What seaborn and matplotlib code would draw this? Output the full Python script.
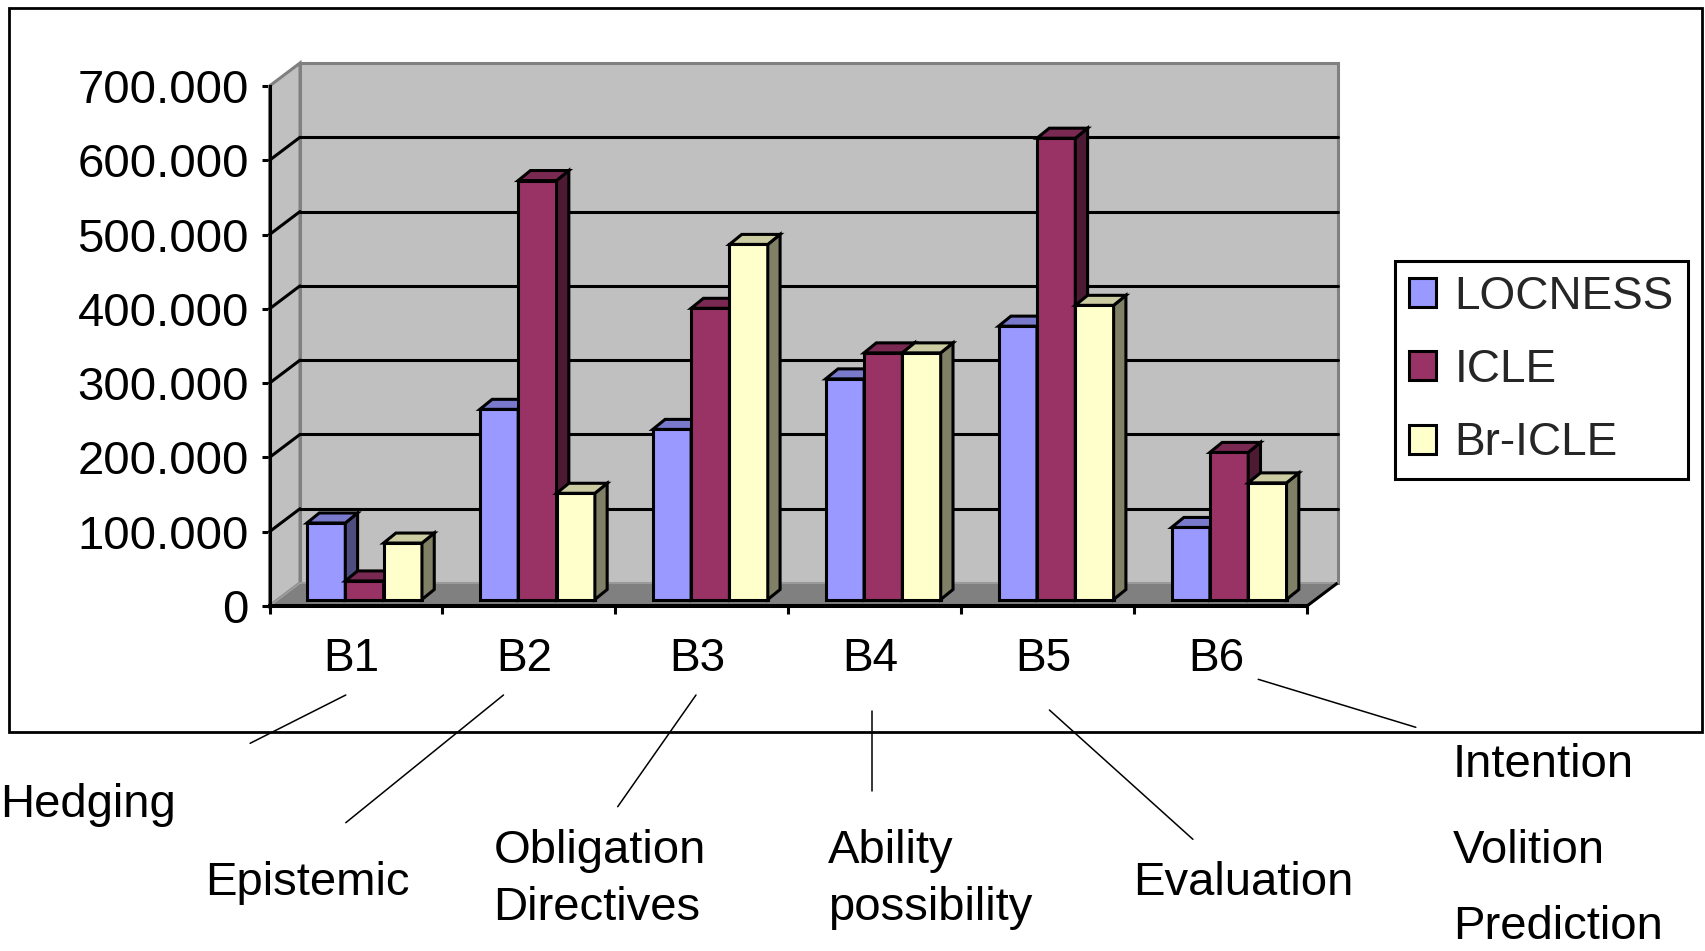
import numpy as np
import pandas as pd
import matplotlib
matplotlib.use("Agg")
import matplotlib.pyplot as plt
from matplotlib.patches import Polygon, Rectangle, Patch
from matplotlib.lines import Line2D
import seaborn as sns

# ---- data -------------------------------------------------------------
categories = ["B1", "B2", "B3", "B4", "B5", "B6"]
series = ["LOCNESS", "ICLE", "Br-ICLE"]
locness = [103, 256, 229, 297, 368, 97]
icle = [25, 564, 392, 332, 621, 198]
br_icle = [76, 143, 478, 332, 396, 157]
y_ticks = [0, 100, 200, 300, 400, 500, 600, 700]
y_tick_labels = ["0", "100.000", "200.000", "300.000", "400.000",
                 "500.000", "600.000", "700.000"]
note_lines = ["Hedging", "Epistemic", "Obligation", "Directives", "Ability",
              "possibility", "Evaluation", "Intention", "Volition", "Prediction"]

colors = ["#9999FF", "#993366", "#FFFFCC"]

# ---- figure geometry (pixels) ----------------------------------------
W, H, DPI = 1705, 951, 100
AX_L, AX_R, AX_T, AX_B = 269.5, 1307, 86, 606
PLANE = (8.5, 6.5)      # bar front faces sit slightly behind the axis plane
BAR_DEPTH = (12.3, 10)  # visible depth of each column
WALL = (30.5, 23)       # depth of the back wall

sns.set_theme(style="white")
plt.rcParams["font.family"] = ["Liberation Sans", "DejaVu Sans"]

fig = plt.figure(figsize=(W / DPI, H / DPI), dpi=DPI)


def fx(px):
    return px / W


def fy(py):
    return 1 - py / H


ax = fig.add_axes([fx(AX_L), fy(AX_B), (AX_R - AX_L) / W, (AX_B - AX_T) / H])
ax.patch.set_visible(False)

df = pd.DataFrame({
    "category": categories * 3,
    "series": np.repeat(series, len(categories)),
    "value": locness + icle + br_icle,
})

sns.barplot(data=df, x="category", y="value", hue="series", order=categories,
            hue_order=series, palette=colors, saturation=1, width=0.665,
            edgecolor="black", linewidth=2.2, errorbar=None, legend=False, ax=ax)
bars = sorted([p for p in ax.patches if isinstance(p, Rectangle)],
              key=lambda p: p.get_x())

ymax = y_ticks[-1]
ax.set_xlim(-0.5, len(categories) - 0.5)
ax.set_ylim(0, ymax)

ux = (AX_R - AX_L) / len(categories)
uy = (AX_B - AX_T) / ymax


def to_data(off):
    return off[0] / ux, off[1] / uy


pdx, pdy = to_data(PLANE)
bdx, bdy = to_data(BAR_DEPTH)
wdx, wdy = to_data(WALL)
x_lo, x_hi = -0.5, len(categories) - 0.5

# ---- walls and floor ---------------------------------------------------
ax.add_patch(Polygon([(x_lo + wdx, wdy), (x_hi + wdx, wdy), (x_hi + wdx, ymax + wdy),
                      (x_lo + wdx, ymax + wdy)], closed=True, fc="#C0C0C0",
                     ec="#808080", lw=2.2, zorder=0.5, clip_on=False))
ax.add_patch(Polygon([(x_lo, 0), (x_lo + wdx, wdy), (x_lo + wdx, ymax + wdy),
                      (x_lo, ymax)], closed=True, fc="#C0C0C0", ec="#808080",
                     lw=2.2, zorder=0.55, clip_on=False))
ax.add_patch(Polygon([(x_lo, 0), (x_hi, 0), (x_hi + wdx, wdy), (x_lo + wdx, wdy)],
                     closed=True, fc="#808080", ec="#A0A0A0", lw=1.2, zorder=0.7,
                     clip_on=False))
ax.plot([x_hi, x_hi + wdx], [0, wdy], color="black", lw=2.2, zorder=0.75,
        clip_on=False, solid_capstyle="butt")

for v in y_ticks[1:-1]:
    ax.plot([x_lo + wdx, x_hi + wdx], [v + wdy, v + wdy], color="black", lw=2.2,
            zorder=0.6, clip_on=False)
    ax.plot([x_lo, x_lo + wdx], [v, v + wdy], color="black", lw=2.2,
            zorder=0.6, clip_on=False)

# ---- pseudo-3D columns -------------------------------------------------
for i, p in enumerate(bars):
    z = 2 + i * 0.01
    base = np.array(p.get_facecolor()[:3])
    x0 = p.get_x() + pdx
    w = p.get_width()
    h = p.get_height()
    p.set_x(x0)
    p.set_y(pdy)
    p.set_zorder(z)
    p.set_clip_on(False)
    y0, y1 = pdy, pdy + h
    side = Polygon([(x0 + w, y0), (x0 + w + bdx, y0 + bdy), (x0 + w + bdx, y1 + bdy),
                    (x0 + w, y1)], closed=True, fc=base * 0.5, ec="black",
                   lw=2.2, zorder=z + 0.002, clip_on=False)
    top = Polygon([(x0, y1), (x0 + w, y1), (x0 + w + bdx, y1 + bdy),
                   (x0 + bdx, y1 + bdy)], closed=True, fc=base * 0.8, ec="black",
                  lw=2.2, zorder=z + 0.004, clip_on=False)
    ax.add_patch(side)
    ax.add_patch(top)

# ---- axes --------------------------------------------------------------
for s in ("top", "right"):
    ax.spines[s].set_visible(False)
ax.spines["left"].set_linewidth(2.2)
ax.spines["left"].set_color("black")
ax.spines["bottom"].set_linewidth(2.9)
ax.spines["bottom"].set_color("black")
for s in ax.spines.values():
    s.set_zorder(5)

ax.set_yticks(y_ticks)
ax.set_yticklabels(y_tick_labels)
ax.set_xticks(np.arange(x_lo, x_hi + 0.01, 1.0))
ax.set_xticklabels([])
# category names sit a touch left of the slot centres
ax.set_xticks(np.arange(len(categories)) - 0.025, minor=True)
ax.set_xticklabels(categories, minor=True)
ax.set_xlabel("")
ax.set_ylabel("")
ax.tick_params(axis="y", left=True, direction="out", length=5.8, width=2.2,
               colors="black", labelsize=34, pad=9)
ax.tick_params(axis="x", which="major", bottom=True, direction="out", length=5.8,
               width=2.2, colors="black")
ax.tick_params(axis="x", which="minor", bottom=True, length=0, labelsize=33,
               pad=22, labelcolor="black")

# ---- legend ------------------------------------------------------------
handles = [Patch(facecolor=c, edgecolor="black", lw=2.2) for c in colors]
leg = fig.legend(handles, series, loc="center left",
                 bbox_to_anchor=(fx(1395), fy(370)), frameon=True,
                 fancybox=False, edgecolor="black", fontsize=33,
                 handlelength=0.6, handleheight=0.6, handletextpad=0.4,
                 labelspacing=0.64, borderpad=0.3, borderaxespad=0)
leg.get_frame().set_linewidth(2.2)
leg.get_frame().set_alpha(1)

# ---- chart border ------------------------------------------------------
fig.add_artist(Rectangle((fx(8.7), fy(732)), (1702 - 8.7) / W, (732 - 7.6) / H,
                         transform=fig.transFigure, fill=False, ec="black",
                         lw=2.0, zorder=1))

# ---- category descriptions with leader lines ---------------------------
leaders = [((345.8, 695), (250.1, 743.3)),
           ((503.5, 695), (345.8, 822.7)),
           ((696.0, 695), (617.7, 806.7)),
           ((872.1, 710.7), (872.1, 790.7)),
           ((1049.4, 710), (1192.9, 839.3)),
           ((1258.2, 679.3), (1415.8, 727.3))]
for (xa, ya), (xb, yb) in leaders:
    fig.add_artist(Line2D([fx(xa), fx(xb)], [fy(ya), fy(yb)],
                          transform=fig.transFigure, color="black", lw=1.1,
                          zorder=3))

note_pos = [(0, 816.7), (205, 895), (493.5, 863.3), (493.5, 920),
            (828, 863.3), (828, 920), (1133, 895), (1453, 776.7),
            (1453, 863.3), (1453, 939)]
for txt, (xp, yp) in zip(note_lines, note_pos):
    fig.text(fx(xp), fy(yp), txt, ha="left", va="baseline", fontsize=34,
             color="black")

fig.savefig("out.png", dpi=DPI)
